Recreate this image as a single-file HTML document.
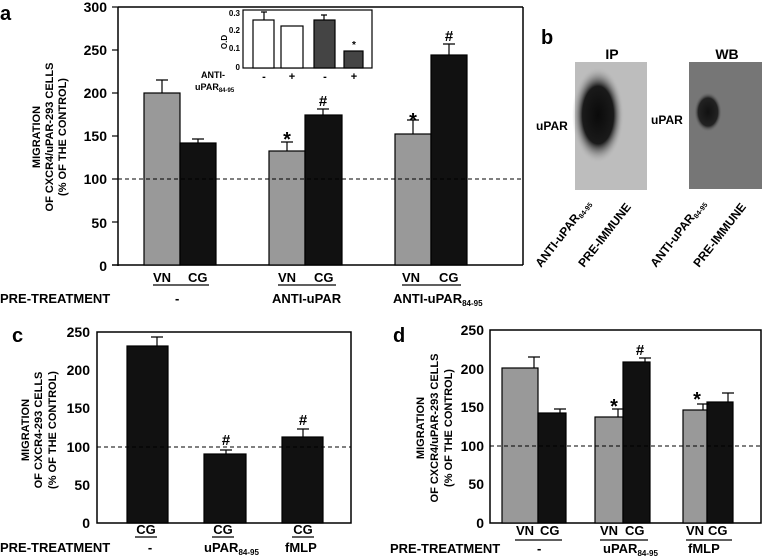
<!DOCTYPE html>
<html><head><style>
html,body{margin:0;padding:0;background:#fff}
svg{display:block;font-family:"Liberation Sans",Arial,sans-serif;font-weight:bold}
</style></head><body>
<svg width="764" height="559" viewBox="0 0 764 559" xmlns="http://www.w3.org/2000/svg">
<defs>
<radialGradient id="ip" cx="0.5" cy="0.5" r="0.5"><stop offset="0" stop-color="#0a0a0a"/><stop offset="0.6" stop-color="#1a1a1a"/><stop offset="1" stop-color="#bbb" stop-opacity="0"/></radialGradient>
<radialGradient id="wb" cx="0.5" cy="0.5" r="0.5"><stop offset="0" stop-color="#111"/><stop offset="0.7" stop-color="#222"/><stop offset="1" stop-color="#777" stop-opacity="0"/></radialGradient>
</defs>
<!-- Panel a -->
<text x="0" y="20" font-size="20">a</text>
<line x1="118" y1="7" x2="523" y2="7" stroke="#000" stroke-width="1.5"/>
<line x1="523" y1="7" x2="523" y2="265" stroke="#000" stroke-width="1.5"/>
<line x1="118" y1="7" x2="118" y2="266" stroke="#000" stroke-width="1.5"/>
<line x1="112" y1="265" x2="523" y2="265" stroke="#000" stroke-width="1.5"/>
<g font-size="14" text-anchor="end">
<text x="107" y="12">300</text><text x="107" y="55">250</text><text x="107" y="98">200</text><text x="107" y="141">150</text><text x="107" y="184">100</text><text x="107" y="228">50</text><text x="107" y="271">0</text>
</g>
<g stroke="#000" stroke-width="1.2">
<line x1="112" y1="7" x2="118" y2="7"/><line x1="112" y1="50" x2="118" y2="50"/><line x1="112" y1="93" x2="118" y2="93"/><line x1="112" y1="136" x2="118" y2="136"/><line x1="112" y1="179" x2="118" y2="179"/><line x1="112" y1="222" x2="118" y2="222"/>
</g>
<g font-size="11" text-anchor="middle">
<text transform="translate(40,137) rotate(-90)">MIGRATION</text>
<text transform="translate(53,137) rotate(-90)">OF CXCR4/uPAR-293 CELLS</text>
<text transform="translate(66,137) rotate(-90)">(% OF THE CONTROL)</text>
</g>
<g stroke="#000" stroke-width="1.2">
<rect x="144" y="93" width="36" height="172" fill="#999"/>
<rect x="180" y="143" width="36" height="122" fill="#111"/>
<rect x="269" y="151" width="36" height="114" fill="#999"/>
<rect x="305" y="115" width="37" height="150" fill="#111"/>
<rect x="395" y="134" width="36" height="131" fill="#999"/>
<rect x="431" y="55" width="36" height="210" fill="#111"/>
<path d="M162 93V80M156 80h12M198 143V139M192 139h12M287 151V142M281 142h12M323 115V109M317 109h12M413 134V120M407 120h12M449 55V44M443 44h12" fill="none"/>
</g>
<line x1="118" y1="179" x2="523" y2="179" stroke="#000" stroke-dasharray="4,3" stroke-width="1"/>
<g font-size="20" text-anchor="middle"><text x="287" y="146">*</text><text x="413" y="127">*</text></g>
<g font-size="15" text-anchor="middle"><text x="323" y="106">#</text><text x="449" y="41">#</text></g>
<g font-size="13">
<text x="153" y="282">VN</text><text x="188" y="282">CG</text>
<text x="278" y="282">VN</text><text x="314" y="282">CG</text>
<text x="402" y="282">VN</text><text x="439" y="282">CG</text>
<text x="0" y="303">PRE-TREATMENT</text>
<text x="175" y="303">-</text>
<text x="272" y="303">ANTI-uPAR</text>
<text x="393" y="303">ANTI-uPAR<tspan font-size="8" dy="3">84-95</tspan></text>
</g>
<g stroke="#000" stroke-width="1.3"><line x1="153" y1="285" x2="209" y2="285"/><line x1="278" y1="285" x2="336" y2="285"/><line x1="402" y1="285" x2="461" y2="285"/></g>
<!-- inset -->
<rect x="243" y="10" width="129" height="58" fill="#fff" stroke="#000" stroke-width="1.2"/>
<g stroke="#000" stroke-width="1.2">
<rect x="253" y="20" width="21" height="48" fill="#fff"/>
<rect x="281" y="26" width="22" height="42" fill="#fff"/>
<rect x="314" y="20" width="21" height="48" fill="#444"/>
<rect x="344" y="51" width="19" height="17" fill="#444"/>
<path d="M264 20V12M261 12h6M324 20V15M321 15h6" fill="none"/>
</g>
<g font-size="8" text-anchor="end"><text x="240" y="16">0.3</text><text x="240" y="33">0.2</text><text x="240" y="51">0.1</text><text x="240" y="70">0</text></g>
<text transform="translate(227,42) rotate(-90)" font-size="8" text-anchor="middle">O.D</text>
<g font-size="9"><text x="201" y="78">ANTI-</text><text x="195" y="90">uPAR<tspan font-size="6" dy="2">84-95</tspan></text></g>
<g font-size="11" text-anchor="middle"><text x="264" y="80">-</text><text x="292" y="80">+</text><text x="325" y="80">-</text><text x="354" y="80">+</text></g>
<text x="354" y="48" font-size="10" text-anchor="middle">*</text>
<!-- Panel b -->
<text x="541" y="44" font-size="20">b</text>
<text x="612" y="59" font-size="14" text-anchor="middle">IP</text>
<text x="727" y="59" font-size="14" text-anchor="middle">WB</text>
<rect x="575" y="62" width="72" height="128" fill="#bdbdbd"/>
<ellipse cx="598" cy="115" rx="26" ry="48" fill="url(#ip)"/>
<rect x="689" y="62" width="73" height="127" fill="#767676"/>
<ellipse cx="708" cy="112" rx="14" ry="20" fill="url(#wb)"/>
<g font-size="12"><text x="536" y="130">uPAR</text><text x="651" y="124">uPAR</text></g>
<g font-size="12">
<text transform="translate(541,268) rotate(-52)">ANTI-uPAR<tspan font-size="7" dy="2">84-95</tspan></text>
<text transform="translate(584,268) rotate(-52)">PRE-IMMUNE</text>
<text transform="translate(656,268) rotate(-52)">ANTI-uPAR<tspan font-size="7" dy="2">84-95</tspan></text>
<text transform="translate(699,268) rotate(-52)">PRE-IMMUNE</text>
</g>
<!-- Panel c -->
<text x="12" y="342" font-size="20">c</text>
<rect x="97" y="332" width="254" height="191" fill="none" stroke="#000" stroke-width="1.5"/>
<g font-size="14" text-anchor="end">
<text x="90" y="337">250</text><text x="90" y="375">200</text><text x="90" y="413">150</text><text x="90" y="452">100</text><text x="90" y="490">50</text><text x="90" y="528">0</text>
</g>
<g font-size="11" text-anchor="middle">
<text transform="translate(29,430) rotate(-90)">MIGRATION</text>
<text transform="translate(42,430) rotate(-90)">OF CXCR4-293 CELLS</text>
<text transform="translate(56,430) rotate(-90)">(% OF THE CONTROL)</text>
</g>
<g stroke="#000" stroke-width="1.2">
<rect x="127" y="346" width="41" height="177" fill="#111"/>
<rect x="204" y="454" width="42" height="69" fill="#111"/>
<rect x="282" y="437" width="41" height="86" fill="#111"/>
<path d="M157 346V337M151 337h12M226 454V450M220 450h12M303 437V429M297 429h12" fill="none"/>
</g>
<line x1="97" y1="447" x2="351" y2="447" stroke="#000" stroke-dasharray="4,3"/>
<g font-size="15" text-anchor="middle"><text x="226" y="445">#</text><text x="303" y="425">#</text></g>
<g font-size="13" text-anchor="middle"><text x="146" y="534">CG</text><text x="223" y="534">CG</text><text x="303" y="534">CG</text></g>
<g stroke="#000" stroke-width="1.3"><line x1="135" y1="537" x2="157" y2="537"/><line x1="212" y1="537" x2="234" y2="537"/><line x1="292" y1="537" x2="314" y2="537"/></g>
<g font-size="13"><text x="0" y="552">PRE-TREATMENT</text><text x="150" y="552" text-anchor="middle">-</text><text x="204" y="552">uPAR<tspan font-size="8" dy="3">84-95</tspan></text><text x="285" y="552">fMLP</text></g>
<!-- Panel d -->
<text x="393" y="342" font-size="20">d</text>
<rect x="490" y="330" width="271" height="193" fill="none" stroke="#000" stroke-width="1.5"/>
<g font-size="14" text-anchor="end">
<text x="484" y="335">250</text><text x="484" y="374">200</text><text x="484" y="412">150</text><text x="484" y="451">100</text><text x="484" y="489">50</text><text x="484" y="528">0</text>
</g>
<g font-size="11" text-anchor="middle">
<text transform="translate(424,428) rotate(-90)">MIGRATION</text>
<text transform="translate(438,428) rotate(-90)">OF CXCR4/uPAR-293 CELLS</text>
<text transform="translate(452,428) rotate(-90)">(% OF THE CONTROL)</text>
</g>
<g stroke="#000" stroke-width="1.2">
<rect x="502" y="368" width="36" height="155" fill="#999"/>
<rect x="538" y="413" width="28" height="110" fill="#111"/>
<rect x="595" y="417" width="28" height="106" fill="#999"/>
<rect x="623" y="362" width="27" height="161" fill="#111"/>
<rect x="683" y="410" width="24" height="113" fill="#999"/>
<rect x="707" y="402" width="26" height="121" fill="#111"/>
<path d="M534 368V357M528 357h12M560 413V409M554 409h12M618 417V409M612 409h12M645 362V358M639 358h12M703 410V404M697 404h12M728 402V393M722 393h12" fill="none"/>
</g>
<line x1="490" y1="446" x2="761" y2="446" stroke="#000" stroke-dasharray="4,3"/>
<g font-size="20" text-anchor="middle"><text x="614" y="413">*</text><text x="697" y="406">*</text></g>
<text x="640" y="355" font-size="15" text-anchor="middle">#</text>
<g font-size="13"><text x="516" y="535">VN</text><text x="540" y="535">CG</text><text x="600" y="535">VN</text><text x="625" y="535">CG</text><text x="686" y="535">VN</text><text x="708" y="535">CG</text></g>
<g stroke="#000" stroke-width="1.3"><line x1="515" y1="540" x2="562" y2="540"/><line x1="600" y1="540" x2="648" y2="540"/><line x1="686" y1="540" x2="732" y2="540"/></g>
<g font-size="13"><text x="390" y="553">PRE-TREATMENT</text><text x="537" y="553">-</text><text x="603" y="553">uPAR<tspan font-size="8" dy="3">84-95</tspan></text><text x="688" y="553">fMLP</text></g>
</svg>
</body></html>
